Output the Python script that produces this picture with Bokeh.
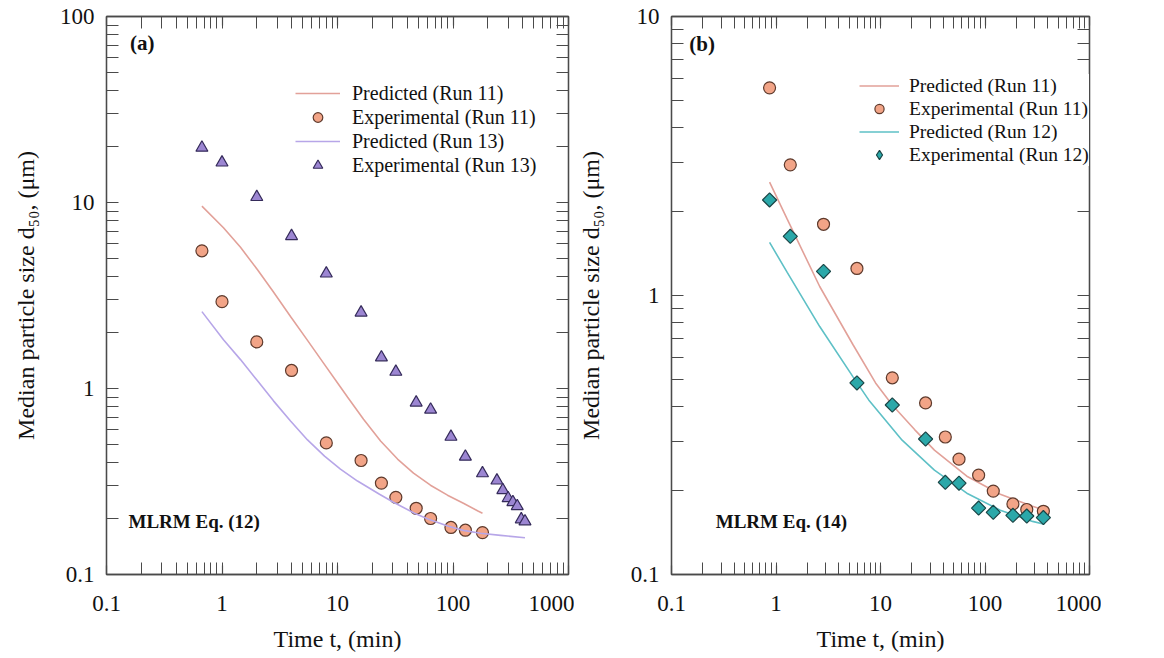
import math
from bokeh.plotting import figure
from bokeh.layouts import row
from bokeh.models import (Range1d, LogAxis, FixedTicker, CustomJSTickFormatter,
                          Legend, LegendItem, Label)
from bokeh.embed import file_html
from bokeh.resources import INLINE

# ---------------- data: panel (a) ----------------
t_exp11_a = [0.67, 1, 2, 4, 8, 16, 24, 32, 48, 64, 96, 128, 180]
d_exp11_a = [5.5, 2.93, 1.78, 1.25, 0.51, 0.41, 0.31, 0.26, 0.227, 0.2, 0.179, 0.173, 0.168]

t_exp13_a = [0.67, 1, 2, 4, 8, 16, 24, 32, 48, 64, 96, 128, 180, 240, 270, 300, 330, 360, 390, 420]
d_exp13_a = [19.7, 16.4, 10.7, 6.6, 4.15, 2.56, 1.47, 1.23, 0.84, 0.77, 0.55, 0.43, 0.35,
             0.32, 0.284, 0.257, 0.245, 0.233, 0.198, 0.193]

t_pred11_a = [0.67, 1.03, 1.446, 2.03, 2.79, 3.92, 5.5, 7.57, 10.6, 12.2, 16.8, 23.6, 33.1,
              45.5, 63.8, 89.6, 123, 166, 180]
d_pred11_a = [9.56, 7.32, 5.74, 4.35, 3.30, 2.44, 1.814, 1.369, 1.018, 0.90, 0.683, 0.522,
              0.4175, 0.351, 0.302, 0.267, 0.2416, 0.2188, 0.2134]

t_pred13_a = [0.67, 1.03, 1.446, 2.03, 2.79, 3.92, 5.5, 7.72, 10.6, 14.9, 23.1, 30.5, 46.4,
              61.4, 91.4, 123, 173, 258, 420]
d_pred13_a = [2.59, 1.83, 1.43, 1.10, 0.858, 0.669, 0.529, 0.433, 0.369, 0.318, 0.270,
              0.2446, 0.2135, 0.198, 0.1816, 0.1727, 0.1665, 0.1624, 0.1575]

# ---------------- data: panel (b) ----------------
t_exp_b = [0.868, 1.37, 2.85, 5.95, 12.97, 27.0, 41.7, 56.4, 86.9, 120, 185, 251, 362]
d_exp11_b = [5.55, 2.94, 1.80, 1.25, 0.507, 0.412, 0.311, 0.259, 0.227, 0.199, 0.179, 0.171, 0.1685]
d_exp12_b = [2.20, 1.63, 1.22, 0.486, 0.405, 0.306, 0.214, 0.2125, 0.173, 0.167, 0.163, 0.162, 0.160]

t_pred11_b = [0.868, 1.28, 2.62, 5.46, 8.97, 12.96, 21.3, 32.8, 67, 140, 285, 370]
d_pred11_b = [2.55, 1.877, 1.077, 0.666, 0.486, 0.405, 0.33, 0.279, 0.225, 0.194, 0.1757, 0.170]

t_pred12_b = [0.868, 1.28, 2.62, 5.46, 7.71, 16.1, 32.8, 67, 140, 285, 370]
d_pred12_b = [1.55, 1.21, 0.774, 0.511, 0.4225, 0.303, 0.2366, 0.1956, 0.170, 0.155, 0.1513]

x_major_ticks = [0.1, 1, 10, 100, 1000]
y_major_ticks_a = [0.1, 1, 10, 100]
y_major_ticks_b = [0.1, 1, 10]

# ---------------- styling ----------------
FONT = "Liberation Serif"
AX = "#4a4a4a"
TXT = "#111111"
C_PRED11 = "#E2A199"
C_PRED13 = "#B7A6E8"
C_PRED12 = "#5EC0C6"
C_CIRC = "#F2A487"
C_CIRC_E = "#5E3A2C"
C_TRI = "#9C86D2"
C_TRI_E = "#352B5A"
C_DIA = "#2BA8A9"
C_DIA_E = "#1A4546"

decade_code = ("const l = Math.log10(tick);"
               "if (Math.abs(l - Math.round(l)) > 1e-6) { return ''; }"
               "return String(Number(tick.toPrecision(6)));")
blank_code = "return '';"


def all_ticks(majors):
    out = list(majors)
    for m in majors[:-1]:
        for k in range(2, 10):
            out.append(m * k)
    return sorted(out)


def add_side(p, side, majors, axis_label=None, tick_standoff=0, label_standoff=0):
    # inner axis: decade ticks (long) + axis line
    inner = LogAxis(ticker=FixedTicker(ticks=majors),
                    formatter=CustomJSTickFormatter(code=blank_code),
                    major_label_text_font_size="0px", major_label_standoff=0,
                    axis_line_color=AX, axis_line_width=1.3,
                    major_tick_line_color=AX, major_tick_line_width=1.2,
                    major_tick_in=9, major_tick_out=0,
                    minor_tick_in=0, minor_tick_out=0)
    # outer axis: every decade + intermediate tick (short), holds the labels
    outer = LogAxis(ticker=FixedTicker(ticks=all_ticks(majors)),
                    axis_line_color=None,
                    major_tick_line_color=AX, major_tick_line_width=1.0,
                    major_tick_in=12, major_tick_out=0,
                    minor_tick_in=0, minor_tick_out=0)
    if axis_label is not None:
        outer.formatter = CustomJSTickFormatter(code=decade_code)
        outer.major_label_text_font = FONT
        outer.major_label_text_font_size = "23px"
        outer.major_label_text_color = TXT
        outer.major_label_standoff = tick_standoff
        outer.axis_label = axis_label
        outer.axis_label_text_font = FONT
        outer.axis_label_text_font_size = "24px"
        outer.axis_label_text_font_style = "normal"
        outer.axis_label_text_color = TXT
        outer.axis_label_standoff = label_standoff
    else:
        outer.formatter = CustomJSTickFormatter(code=blank_code)
        outer.major_label_text_font_size = "0px"
        outer.major_label_standoff = 0
    p.add_layout(inner, side)
    p.add_layout(outer, side)


def make_fig(width, ymax, ymajors, border_left, border_right, ylab_standoff):
    p = figure(width=width, height=656, x_axis_type="log", y_axis_type="log",
               x_axis_location=None, y_axis_location=None,
               x_range=Range1d(0.1, 1000), y_range=Range1d(0.1, ymax),
               output_backend="svg", toolbar_location=None,
               min_border_left=border_left, min_border_right=border_right,
               min_border_top=16, min_border_bottom=82)
    p.grid.visible = False
    p.outline_line_color = AX
    p.outline_line_width = 1.3
    p.background_fill_color = "white"
    p.border_fill_color = "white"
    add_side(p, "below", x_major_ticks, "Time t, (min)", 21, 12)
    add_side(p, "left", ymajors, "Median particle size d\u2085\u2080, (\u03bcm)", 12, ylab_standoff)
    add_side(p, "above", x_major_ticks)
    add_side(p, "right", ymajors)
    return p


def style_legend(lg, row_h):
    lg.label_text_font = FONT
    lg.label_text_font_size = "20px"
    lg.label_text_color = TXT
    lg.glyph_width = 45
    lg.glyph_height = row_h
    lg.label_height = row_h
    lg.label_standoff = 12
    lg.spacing = 0
    lg.padding = 0
    lg.margin = 0
    lg.border_line_alpha = 0
    lg.background_fill_color = "white"
    lg.background_fill_alpha = 1.0


# ---------------- panel (a) ----------------
pa = make_fig(574, 100, y_major_ticks_a, 106, 6, 18)
l11a = pa.line(t_pred11_a, d_pred11_a, line_color=C_PRED11, line_width=1.6)
c11a = pa.scatter(t_exp11_a, d_exp11_a, marker="circle", size=12, fill_color=C_CIRC,
                  line_color=C_CIRC_E, line_width=1.2)
l13a = pa.line(t_pred13_a, d_pred13_a, line_color=C_PRED13, line_width=1.6)
t13a = pa.scatter(t_exp13_a, d_exp13_a, marker="triangle", size=12, fill_color=C_TRI,
                  line_color=C_TRI_E, line_width=1.2)
leg_a = Legend(items=[
    LegendItem(label="Predicted (Run 11)", renderers=[l11a]),
    LegendItem(label="Experimental (Run 11)", renderers=[c11a]),
    LegendItem(label="Predicted (Run 13)", renderers=[l13a]),
    LegendItem(label="Experimental (Run 13)", renderers=[t13a]),
], location=(189, 397))
style_legend(leg_a, 24)
pa.add_layout(leg_a)
pa.add_layout(Label(x=0.16, y=72, text="(a)", text_font=FONT, text_font_size="21px",
                    text_font_style="bold", text_baseline="middle", text_color=TXT))
pa.add_layout(Label(x=0.155, y=0.193, text="MLRM Eq. (12)", text_font=FONT,
                    text_font_size="19px", text_font_style="bold", text_baseline="middle",
                    text_color=TXT))

# ---------------- panel (b) ----------------
pb = make_fig(527, 10, y_major_ticks_b, 88, 12, 24)
l11b = pb.line(t_pred11_b, d_pred11_b, line_color=C_PRED11, line_width=1.6)
c11b = pb.scatter(t_exp_b, d_exp11_b, marker="circle", size=12, fill_color=C_CIRC,
                  line_color=C_CIRC_E, line_width=1.2)
l12b = pb.line(t_pred12_b, d_pred12_b, line_color=C_PRED12, line_width=1.6)
d12b = pb.scatter(t_exp_b, d_exp12_b, marker="square", angle=math.pi / 4, size=10,
                  fill_color=C_DIA, line_color=C_DIA_E, line_width=1.2)
# legend-only icon (diamond) for Run 12 experimental points
d12b_icon = pb.scatter(t_exp_b, d_exp12_b, marker="diamond", size=14,
                       fill_color=C_DIA, line_color=C_DIA_E, line_width=1.2, visible=False)
leg_b = Legend(items=[
    LegendItem(label="Predicted (Run 11)", renderers=[l11b]),
    LegendItem(label="Experimental (Run 11)", renderers=[c11b]),
    LegendItem(label="Predicted (Run 12)", renderers=[l12b]),
    LegendItem(label="Experimental (Run 12)", renderers=[d12b_icon]),
], location=(188, 408))
style_legend(leg_b, 23)
leg_b.label_text_font_size = "19.5px"
leg_b.glyph_width = 40
leg_b.label_standoff = 10
pb.add_layout(leg_b)
pb.add_layout(Label(x=0.148, y=8.0, text="(b)", text_font=FONT, text_font_size="21px",
                    text_font_style="bold", text_baseline="middle", text_color=TXT))
pb.add_layout(Label(x=0.265, y=0.155, text="MLRM Eq. (14)", text_font=FONT,
                    text_font_size="19px", text_font_style="bold", text_baseline="middle",
                    text_color=TXT))

layout = row(pa, pb)
open("out.html", "w").write(file_html(layout, INLINE))
